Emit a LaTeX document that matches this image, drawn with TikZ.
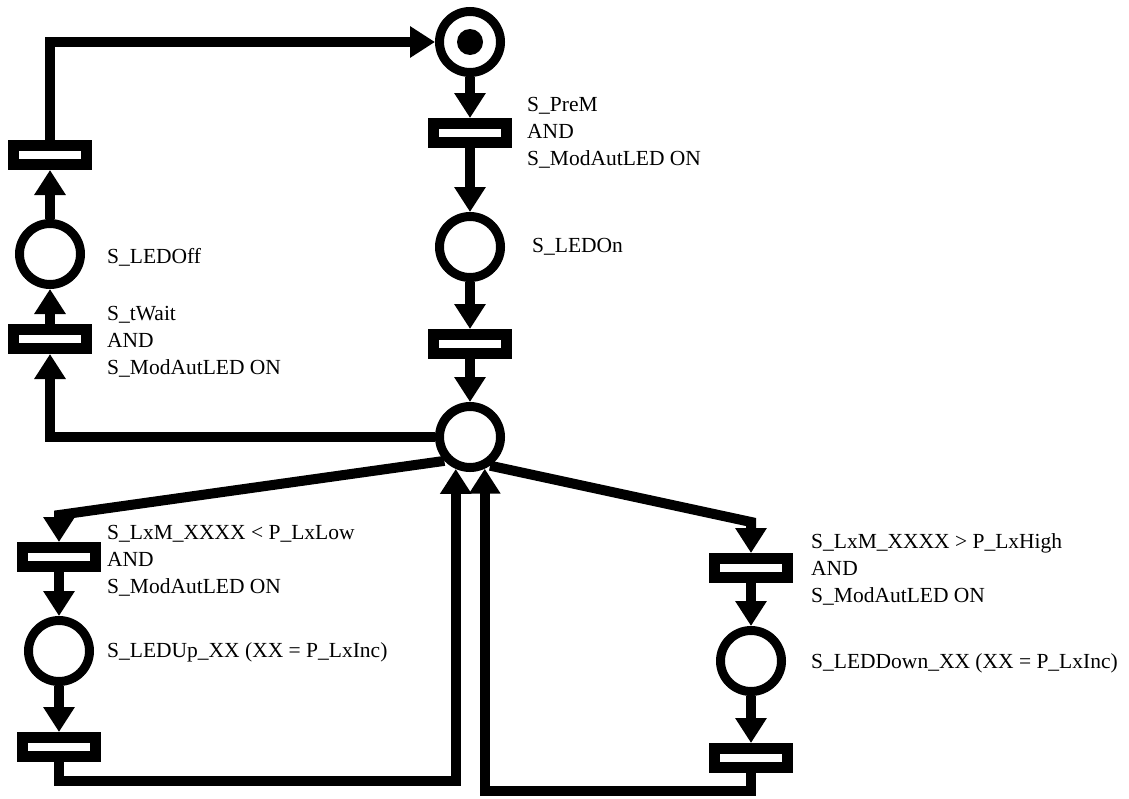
\documentclass[tikz,border=0pt]{standalone}
\usepackage{fontspec}
\setmainfont{Liberation Serif}
\usetikzlibrary{arrows.meta}
\tikzstyle{place} = [circle, draw=black, line width=9pt, minimum size=61pt, inner sep=0pt]
\tikzstyle{transit} = [rectangle, draw=black, line width=11pt, minimum width=73pt, minimum height=19pt, inner sep=0pt]
\tikzstyle{tokendot} = [circle, fill=black, minimum size=26pt, inner sep=0pt]
\tikzstyle{guard} = [anchor=west, align=left, inner sep=0pt, font=\fontsize{21.5pt}{27pt}\selectfont]
\tikzstyle{flow} = [line width=10pt, -{Triangle[length=25pt, width=30pt]}]

\begin{document}
\begin{tikzpicture}[x=1pt, y=-1pt]
  \useasboundingbox (0,0) rectangle (1129,798);
  % main column
  \node (p0)[place] at (470,42){};
  \node (tok)[tokendot] at (p0){};
  \node (t0)[transit, node distance=91pt, below of=p0]{};
  \node (p1)[place, node distance=114pt, below of=t0]{};
  \node (t1)[transit, node distance=97pt, below of=p1]{};
  \node (pC)[place, node distance=93pt, below of=t1]{};
  % left, back to the start
  \node (tL0)[transit] at (50,155){};
  \node (pL)[place, node distance=99pt, below of=tL0]{};
  \node (tL1)[transit, node distance=85pt, below of=pL]{};
  % left, light too low
  \node (tL2)[transit] at (59,557){};
  \node (pL2)[place, node distance=94pt, below of=tL2]{};
  \node (tL3)[transit, node distance=96pt, below of=pL2]{};
  % right, light too high
  \node (tR0)[transit] at (751,568){};
  \node (pR)[place, node distance=93pt, below of=tR0]{};
  \node (tR1)[transit, node distance=97pt, below of=pR]{};

  % guards and place names
  \node (gT0)[guard] at (527,132.5){S\_PreM\\AND\\S\_ModAutLED ON};
  \node (nP1)[guard] at (532,246.5){S\_LEDOn};
  \node (nPL)[guard] at (107,257.5){S\_LEDOff};
  \node (gTL1)[guard] at (107,341.5){S\_tWait\\AND\\S\_ModAutLED ON};
  \node (gTL2)[guard] at (107,560.5){S\_LxM\_XXXX < P\_LxLow\\AND\\S\_ModAutLED ON};
  \node (nPL2)[guard] at (107,652.5){S\_LEDUp\_XX (XX = P\_LxInc)};
  \node (gTR0)[guard] at (811,569.5){S\_LxM\_XXXX > P\_LxHigh\\AND\\S\_ModAutLED ON};
  \node (nPR)[guard] at (811,663.5){S\_LEDDown\_XX (XX = P\_LxInc)};

  % arcs
  \draw [flow] (p0)--(t0);
  \draw [flow] (t0)--(p1);
  \draw [flow] (p1)--(t1);
  \draw [flow] (t1)--(pC);
  \draw [flow] (pC.west) -| (tL1.south);
  \draw [flow] (tL1)--(pL);
  \draw [flow] (pL)--(tL0);
  \draw [flow] (tL0.north) |- (p0.west);
  \draw [flow] (pC.-137) -- ([yshift=27pt]tL2.north) -- (tL2.north);
  \draw [flow] (tL2)--(pL2);
  \draw [flow] (pL2)--(tL3);
  \draw [flow] (tL3.south) -- ++(0,19) -| (pC.-114);
  \draw [flow] (pC.-55) -- ([yshift=31pt]tR0.north) -- (tR0.north);
  \draw [flow] (tR0)--(pR);
  \draw [flow] (pR)--(tR1);
  \draw [flow] (tR1.south) -- ++(0,18) -| (pC.-65);
\end{tikzpicture}
\end{document}
